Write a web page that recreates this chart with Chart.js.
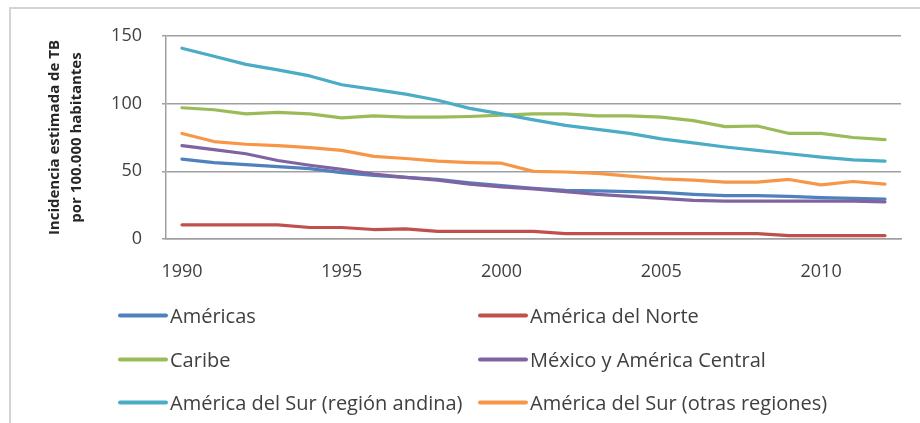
<!DOCTYPE html>
<html lang="es">
<head>
<meta charset="utf-8">
<title>Incidencia estimada de TB</title>
<script src="https://cdn.jsdelivr.net/npm/chart.js@4"></script>
<style>
  html, body { margin: 0; padding: 0; background: #fff; }
  body { width: 920px; height: 423px; position: relative; overflow: hidden; font-family: "Open Sans", sans-serif; }
  .frame { position: absolute; left: 9px; top: 7px; width: 940px; height: 440px; border-left: 2px solid #d4d4d4; border-top: 2px solid #d4d4d4; }
  #chart { position: absolute; left: 0; top: 0; }
  .legend { position: absolute; left: 0; top: 0; width: 920px; height: 423px; pointer-events: none; }
  .legend .item { position: absolute; display: flex; align-items: center; transform: translateY(-50%); color: #404040; font-size: 20px; white-space: nowrap; }
  .legend .swatch { width: 50px; height: 4px; margin-right: 2px; border-radius: 2px; }
</style>
</head>
<body>
<div class="frame"></div>
<canvas id="chart" width="920" height="280"></canvas>
<div class="legend" id="legend"></div>
<script>
// years on the x axis
const years = [];
for (let y = 1990; y <= 2012; y++) years.push(String(y));

const yTicks = [0, 50, 100, 150];

const seriesNames = [
  "Américas",
  "América del Norte",
  "Caribe",
  "México y América Central",
  "América del Sur (región andina)",
  "América del Sur (otras regiones)"
];

// incidence per 100,000, 1990-2012
const americas = [59, 56.5, 55, 53.5, 52, 49, 47, 45.5, 44, 41.5, 39.5, 37.5, 36, 35.5, 35, 34.5, 33, 32, 32, 31.5, 30.5, 30, 29.5];
const norte    = [10.5, 10.5, 10.5, 10.5, 8.5, 8.5, 7, 7.5, 5.7, 5.7, 5.7, 5.7, 4, 4, 4, 4, 4, 4, 4, 2.5, 2.5, 2.5, 2.5];
const caribe   = [97, 95.5, 92.5, 93.5, 92.5, 89.5, 91, 90, 90, 90.5, 91.5, 92.5, 92.5, 91, 91, 90, 87.5, 83, 83.5, 78, 78, 75, 73.5];
const mexico   = [69, 66, 63, 58, 54.5, 51.5, 48, 45.5, 43.5, 40.5, 38.5, 37, 35, 33, 31.5, 30, 28.5, 28, 28, 28, 28, 28, 27.5];
const andina   = [141, 135, 129, 125, 120.5, 114, 110.5, 107, 102.5, 96.5, 92.5, 88, 84, 81, 78, 74, 71, 68, 65.5, 63, 60.5, 58.5, 57.5];
const otras    = [78, 72, 70, 69, 67.5, 65.5, 61, 59.5, 57.5, 56.5, 56, 50, 49.5, 48.5, 46.5, 44.5, 43.5, 42, 42, 44, 40, 42.5, 40.5];

const seriesData = [americas, norte, caribe, mexico, andina, otras];
const seriesColors = ["#4f81bd", "#c0504d", "#9bbb59", "#8064a2", "#4bacc6", "#f79646"];

const PLOT_LEFT = 166, PLOT_TOP = 36, PLOT_BOTTOM = 239, PLOT_RIGHT = 901;
const CANVAS_H = 280;

const datasets = seriesNames.map((name, i) => ({
  label: name,
  data: seriesData[i],
  borderColor: seriesColors[i],
  backgroundColor: seriesColors[i],
  borderWidth: 3.2,
  pointRadius: 0,
  tension: 0,
  fill: false,
  borderJoinStyle: "round",
  borderCapStyle: "round",
  order: seriesNames.length - i  // later series sit on top
}));

new Chart(document.getElementById("chart"), {
  type: "line",
  data: { labels: years, datasets },
  options: {
    responsive: false,
    devicePixelRatio: 1,
    animation: false,
    layout: { padding: { left: 0, top: PLOT_TOP, right: 920 - PLOT_RIGHT, bottom: 0 } },
    plugins: { legend: { display: false }, tooltip: { enabled: false } },
    scales: {
      x: {
        type: "category",
        offset: true,
        grid: { display: false, drawTicks: false },
        border: { display: true, color: "#a0a0a0", width: 1.5 },
        ticks: {
          autoSkip: false,
          maxRotation: 0,
          padding: 22,
          color: "#404040",
          font: { family: "Open Sans", size: 18 },
          callback: function (v) {
            const yr = years[v];
            return Number(yr) % 5 === 0 ? yr : "";
          }
        },
        afterFit: s => { s.height = CANVAS_H - PLOT_BOTTOM; }
      },
      y: {
        min: 0,
        max: 150,
        afterBuildTicks: s => { s.ticks = yTicks.map(v => ({ value: v })); },
        grid: { color: "#a0a0a0", lineWidth: 1.5, tickLength: 4, drawTicks: true },
        border: { display: true, color: "#a0a0a0", width: 1.5 },
        ticks: {
          padding: 20,
          color: "#404040",
          font: { family: "Open Sans", size: 18 }
        },
        title: {
          display: true,
          text: ["Incidencia estimada de TB", "por 100.000 habitantes"],
          color: "#262626",
          font: { family: "Open Sans", size: 15, weight: "bold", lineHeight: 1.45 },
          padding: { top: 44, bottom: 0 }
        },
        afterFit: s => { s.width = PLOT_LEFT; }
      }
    }
  }
});

// legend, two columns x three rows
const legendEl = document.getElementById("legend");
const colX = [118, 478];
const rowY = [315, 359, 402];
seriesNames.forEach((name, i) => {
  const item = document.createElement("div");
  item.className = "item";
  item.style.left = colX[i % 2] + "px";
  item.style.top = rowY[Math.floor(i / 2)] + "px";
  item.innerHTML = `<span class="swatch" style="background:${seriesColors[i]}"></span><span>${name}</span>`;
  legendEl.appendChild(item);
});
</script>
</body>
</html>
